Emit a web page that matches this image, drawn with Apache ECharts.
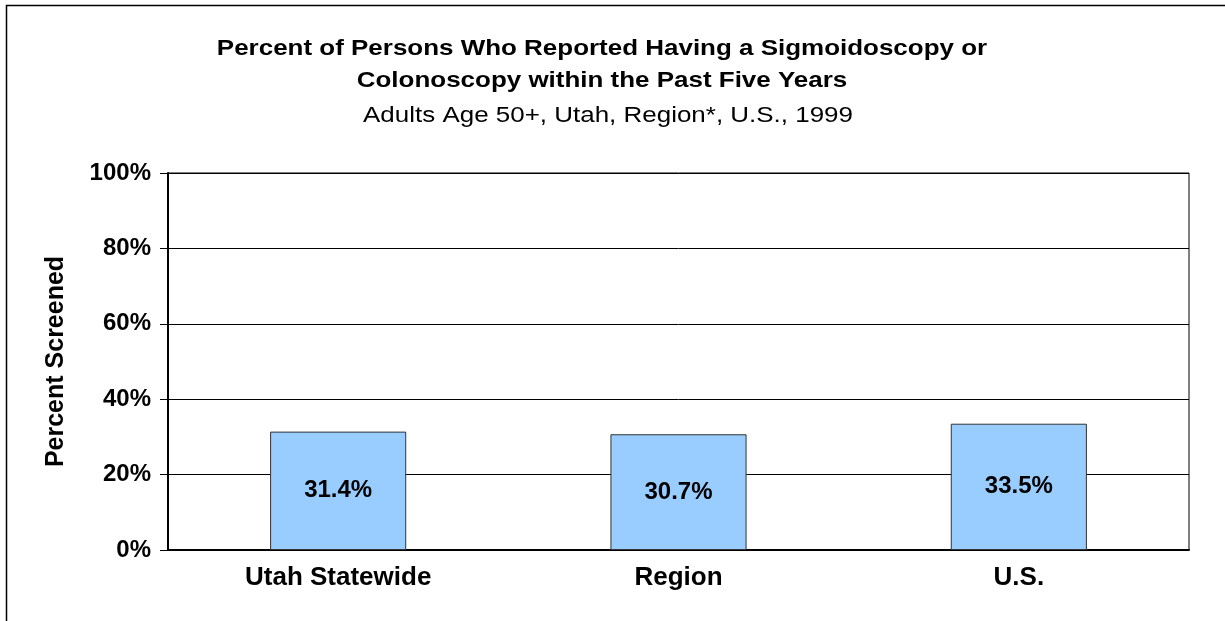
<!DOCTYPE html>
<html>
<head>
<meta charset="utf-8">
<script src="https://cdn.jsdelivr.net/npm/echarts@6/dist/echarts.min.js"></script>
<style>
html,body{margin:0;padding:0;background:#fff;}
#chart{width:1225px;height:621px;}
</style>
</head>
<body>
<div id="chart"></div>
<script>
const categories = ['Utah Statewide', 'Region', 'U.S.'];
const values = [31.4, 30.7, 33.5];
const yTicks = [0, 20, 40, 60, 80, 100];
const titleLines = ['Percent of Persons Who Reported Having a Sigmoidoscopy or', 'Colonoscopy within the Past Five Years'];
const subtitle = 'Adults Age 50+, Utah, Region*, U.S., 1999';
const yName = 'Percent Screened';

const FONT = '"Liberation Sans", Arial, sans-serif';
const chart = echarts.init(document.getElementById('chart'), null, {renderer: 'canvas'});
chart.setOption({
  backgroundColor: '#ffffff',
  animation: false,
  graphic: [
    {type: 'rect', shape: {x: 6.5, y: 5.5, width: 1400, height: 800}, style: {fill: 'none', stroke: '#000', lineWidth: 1.5}, silent: true},
    {type: 'text', x: 602, y: 49, scaleX: 1.18, style: {text: titleLines[0], fontFamily: FONT, fontWeight: 'bold', fontSize: 22, fill: '#000', align: 'center', verticalAlign: 'middle'}},
    {type: 'text', x: 602, y: 81, scaleX: 1.18, style: {text: titleLines[1], fontFamily: FONT, fontWeight: 'bold', fontSize: 22, fill: '#000', align: 'center', verticalAlign: 'middle'}},
    {type: 'text', x: 608, y: 116, scaleX: 1.18, style: {text: subtitle, fontFamily: FONT, fontSize: 22, fill: '#000', align: 'center', verticalAlign: 'middle'}}
  ],
  grid: {left: 168, right: 36, top: 173, bottom: 71, show: true, borderColor: '#000', borderWidth: 1, backgroundColor: 'transparent'},
  xAxis: {
    type: 'category',
    data: categories,
    axisLine: {lineStyle: {color: '#000', width: 2}},
    axisTick: {show: false},
    axisLabel: {color: '#000', fontFamily: FONT, fontWeight: 'bold', fontSize: 26, margin: 15}
  },
  yAxis: {
    type: 'value',
    min: yTicks[0], max: yTicks[yTicks.length - 1], interval: 20,
    name: yName,
    nameLocation: 'middle',
    nameGap: 99,
    nameTextStyle: {color: '#000', fontFamily: FONT, fontWeight: 'bold', fontSize: 25},
    axisLine: {show: true, lineStyle: {color: '#000', width: 2}},
    axisTick: {show: true, inside: false, length: 8, lineStyle: {color: '#000', width: 1}},
    splitLine: {show: true, lineStyle: {color: '#000', width: 1}},
    axisLabel: {color: '#000', fontFamily: FONT, fontWeight: 'bold', fontSize: 24, margin: 17, formatter: v => v + '%'}
  },
  series: [{
    type: 'bar',
    data: values,
    barWidth: '40%',
    itemStyle: {color: '#99CCFF', borderColor: '#333', borderWidth: 1},
    label: {show: true, position: 'inside', color: '#000', fontFamily: FONT, fontWeight: 'bold', fontSize: 24, formatter: p => p.value.toFixed(1) + '%'}
  }]
});
</script>
</body>
</html>
